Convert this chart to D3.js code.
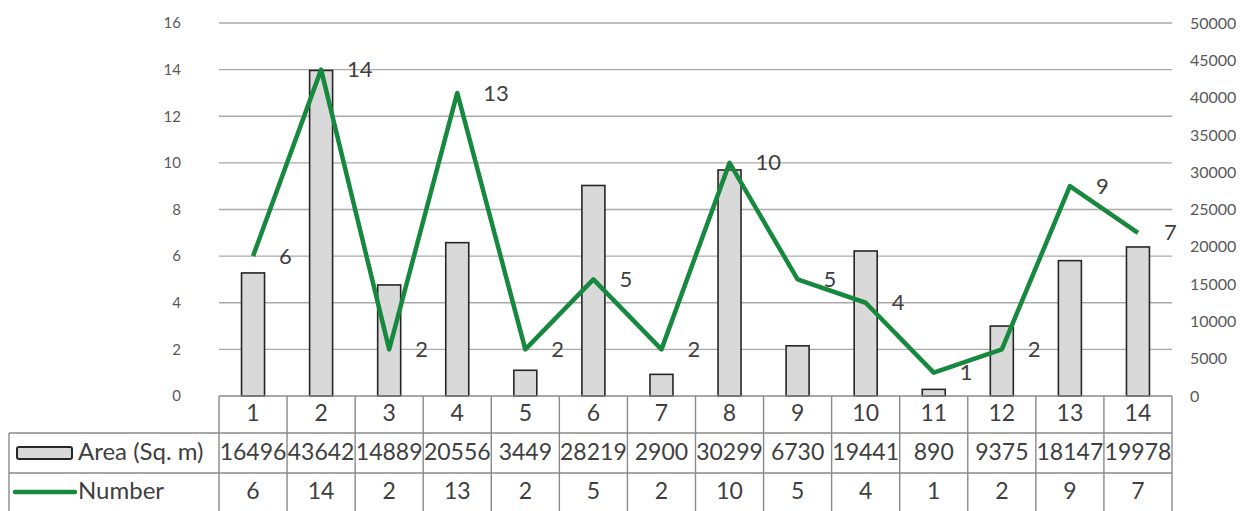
<!DOCTYPE html>
<html>
<head>
<meta charset="utf-8">
<script src="https://cdn.jsdelivr.net/npm/d3@7"></script>
<style>
  html, body { margin: 0; padding: 0; background: #fff; }
  svg { display: block; font-family: Lato, "Open Sans", sans-serif; }
</style>
</head>
<body>
<svg id="chart" width="1256" height="511"></svg>
<script>
// Site numbers, built-up area (sq. m) and count per site
const categories = ["1","2","3","4","5","6","7","8","9","10","11","12","13","14"];
const areaValues = [16496, 43642, 14889, 20556, 3449, 28219, 2900, 30299, 6730, 19441, 890, 9375, 18147, 19978];
const numberValues = [6, 14, 2, 13, 2, 5, 2, 10, 5, 4, 1, 2, 9, 7];
const leftTicks = [0, 2, 4, 6, 8, 10, 12, 14, 16];
const rightTicks = [0, 5000, 10000, 15000, 20000, 25000, 30000, 35000, 40000, 45000, 50000];
const seriesNames = ["Area (Sq. m)", "Number"];

const svg = d3.select("#chart");
const plotLeft = 219, plotRight = 1172, plotTop = 23, plotBottom = 396;
const rowH = [396, 433, 473, 511];
const tableLeft = 9;
const green = "#17893f";
const gridColor = "#a9a9a9";
const tableColor = "#8a8a8a";

const x = d3.scaleBand().domain(categories).range([plotLeft, plotRight]);
const yNum = d3.scaleLinear().domain([0, 16]).range([plotBottom, plotTop]);
const yArea = d3.scaleLinear().domain([0, 50000]).range([plotBottom, plotTop]);

// Horizontal gridlines
svg.append("g")
  .selectAll("line")
  .data(leftTicks.filter(d => d > 0))
  .join("line")
  .attr("x1", plotLeft).attr("x2", plotRight)
  .attr("y1", d => yNum(d)).attr("y2", d => yNum(d))
  .attr("stroke", gridColor).attr("stroke-width", 1.3);

// Left axis (Number)
const leftAxis = svg.append("g")
  .attr("transform", `translate(${plotLeft - 38},0)`)
  .call(d3.axisLeft(yNum).tickValues(leftTicks).tickSize(0).tickPadding(0));
leftAxis.select(".domain").remove();
leftAxis.selectAll("text")
  .attr("font-size", 15).attr("fill", "#595959")
  .attr("font-family", "Lato, sans-serif");

// Right axis (Area)
const rightAxis = svg.append("g")
  .attr("transform", `translate(${plotRight + 18},0)`)
  .call(d3.axisRight(yArea).tickValues(rightTicks).tickSize(0).tickPadding(0).tickFormat(d3.format("d")));
rightAxis.select(".domain").remove();
rightAxis.selectAll("text")
  .attr("font-size", 16).attr("fill", "#595959")
  .attr("font-family", "Lato, sans-serif");

// Area bars
const barW = 23;
svg.append("g")
  .selectAll("rect")
  .data(areaValues)
  .join("rect")
  .attr("x", (d, i) => x(categories[i]) + x.bandwidth() / 2 - barW / 2)
  .attr("y", d => yArea(d))
  .attr("width", barW)
  .attr("height", d => plotBottom - yArea(d))
  .attr("fill", "#d9d9d9")
  .attr("stroke", "#262626")
  .attr("stroke-width", 1.6);

// Number line
const line = d3.line()
  .x((d, i) => x(categories[i]) + x.bandwidth() / 2)
  .y(d => yNum(d));
svg.append("path")
  .datum(numberValues)
  .attr("d", line)
  .attr("fill", "none")
  .attr("stroke", green)
  .attr("stroke-width", 4.5)
  .attr("stroke-linejoin", "round");

// Number value labels
svg.append("g")
  .selectAll("text")
  .data(numberValues)
  .join("text")
  .attr("x", (d, i) => x(categories[i]) + x.bandwidth() / 2 + 26)
  .attr("y", d => yNum(d) + 2)
  .attr("dominant-baseline", "middle")
  .attr("font-size", 22)
  .attr("fill", "#404040")
  .text(d => d);

// Data table
const table = svg.append("g");
const hline = (x1, x2, y) => table.append("line")
  .attr("x1", x1).attr("x2", x2).attr("y1", y).attr("y2", y)
  .attr("stroke", tableColor).attr("stroke-width", 1.4);
const vline = (xv, y1, y2) => table.append("line")
  .attr("x1", xv).attr("x2", xv).attr("y1", y1).attr("y2", y2)
  .attr("stroke", tableColor).attr("stroke-width", 1.4);

hline(plotLeft, plotRight, rowH[0]);
hline(tableLeft, plotRight, rowH[1]);
hline(tableLeft, plotRight, rowH[2]);
vline(tableLeft, rowH[1], rowH[3]);
categories.forEach(c => vline(x(c), rowH[0], rowH[3]));
vline(plotRight, rowH[0], rowH[3]);

const cellText = (vals, r) => table.append("g")
  .selectAll("text")
  .data(vals)
  .join("text")
  .attr("x", (d, i) => x(categories[i]) + x.bandwidth() / 2)
  .attr("y", (rowH[r] + rowH[r + 1]) / 2 + 1)
  .attr("text-anchor", "middle")
  .attr("dominant-baseline", "middle")
  .attr("font-size", 23)
  .attr("fill", "#404040")
  .text(d => d);

cellText(categories, 0);
cellText(areaValues, 1);
cellText(numberValues, 2);

// Legend keys inside the table's label column
const areaMid = (rowH[1] + rowH[2]) / 2;
const numMid = (rowH[2] + rowH[3]) / 2;
table.append("rect")
  .attr("x", 17).attr("y", areaMid - 6).attr("width", 55).attr("height", 12)
  .attr("rx", 2)
  .attr("fill", "#d9d9d9").attr("stroke", "#262626").attr("stroke-width", 2);
table.append("line")
  .attr("x1", 15).attr("x2", 75).attr("y1", numMid).attr("y2", numMid)
  .attr("stroke", green).attr("stroke-width", 4.5).attr("stroke-linecap", "round");
table.selectAll("text.legend")
  .data(seriesNames)
  .join("text")
  .attr("class", "legend")
  .attr("x", 78)
  .attr("y", (d, i) => (i === 0 ? areaMid : numMid) + 1)
  .attr("dominant-baseline", "middle")
  .attr("font-size", 24)
  .attr("fill", "#404040")
  .text(d => d);
</script>
</body>
</html>
